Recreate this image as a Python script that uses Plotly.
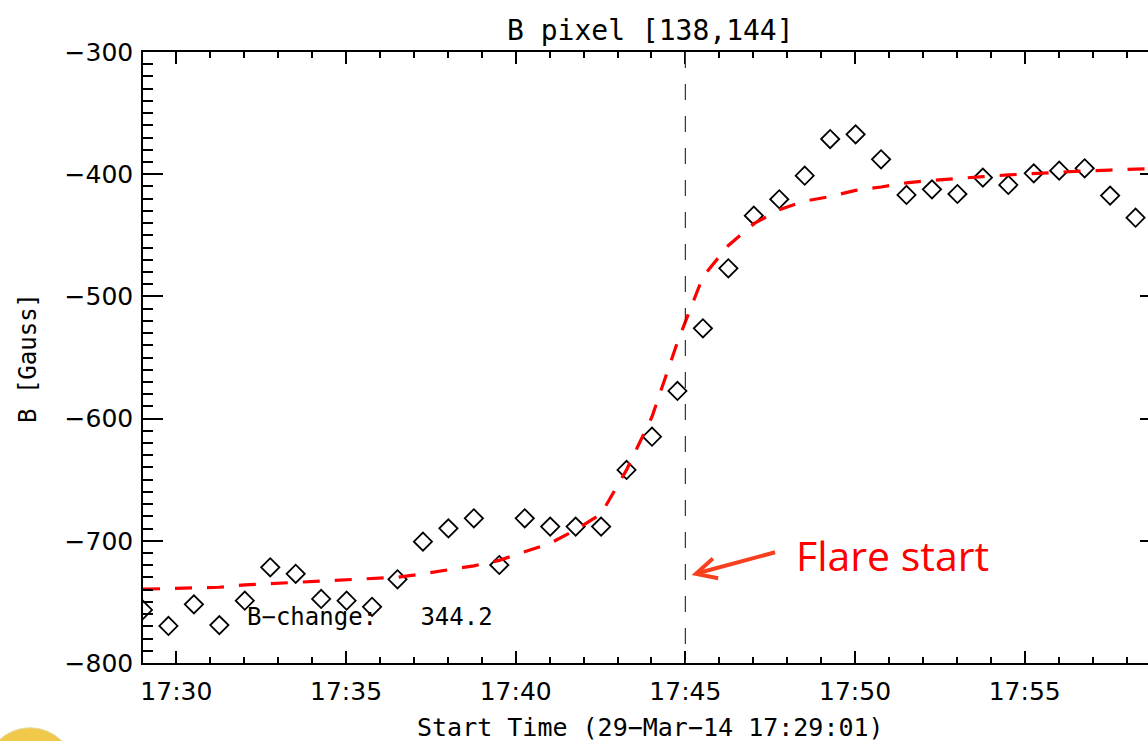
import plotly.graph_objects as go

DATE = "2014-03-29 "

# observation times (45 s cadence) and measured B values [Gauss]
obs_times = ["17:29:01", "17:29:46", "17:30:31", "17:31:16", "17:32:01", "17:32:46",
             "17:33:31", "17:34:16", "17:35:01", "17:35:46", "17:36:31", "17:37:16",
             "17:38:01", "17:38:46", "17:39:31", "17:40:16", "17:41:01", "17:41:46",
             "17:42:31", "17:43:16", "17:44:01", "17:44:46", "17:45:31", "17:46:16",
             "17:47:01", "17:47:46", "17:48:31", "17:49:16", "17:50:01", "17:50:46",
             "17:51:31", "17:52:16", "17:53:01", "17:53:46", "17:54:31", "17:55:16",
             "17:56:01", "17:56:46", "17:57:31", "17:58:16"]
b_obs = [-756.6, -769.7, -752.0, -769.0, -749.0, -721.7, -727.0, -747.6, -749.0, -754.0,
         -731.5, -700.7, -689.8, -681.6, -719.8, -681.6, -688.4, -688.4, -688.4, -642.0,
         -614.8, -577.4, -526.1, -477.0, -433.9, -420.5, -401.2, -371.2, -367.4, -387.8,
         -417.0, -412.4, -416.2, -402.8, -408.8, -399.3, -397.1, -395.2, -417.5, -435.6]

# fitted step curve read at the same times (plus one more sample)
fit_times = obs_times + ["17:59:01"]
b_fit = [-739.6, -739.0, -738.5, -738.0, -736.1, -735.0, -734.0, -733.0, -732.0, -731.0,
         -729.8, -727.0, -724.0, -720.5, -716.0, -709.0, -702.0, -691.0, -678.0, -642.0,
         -598.5, -537.4, -484.0, -458.3, -440.5, -429.1, -422.0, -418.3, -413.2, -410.5,
         -407.1, -405.0, -403.3, -402.0, -400.6, -399.4, -398.3, -397.3, -396.6, -395.8,
         -395.2]

x_tick_labels = ["17:30", "17:35", "17:40", "17:45", "17:50", "17:55"]
y_ticks = [-800, -700, -600, -500, -400, -300]
x_range = ["17:29:01", "17:58:38"]
y_range = [-800, -300]
flare_time = "17:45:00"
b_change = "344.2"

FONT = "DejaVu Sans"
MONO = "DejaVu Sans Mono"

fig = go.Figure()
fig.add_trace(go.Scatter(
    x=[DATE + t for t in obs_times], y=b_obs, mode="markers",
    marker=dict(symbol="diamond-open", size=14, color="black",
                line=dict(color="black", width=1.8)),
    showlegend=False, hoverinfo="skip"))
fig.add_trace(go.Scatter(
    x=[DATE + t for t in fit_times], y=b_fit, mode="lines", yaxis="y2",
    line=dict(color="#ff0000", width=3.2, dash="17px,15px"),
    showlegend=False, hoverinfo="skip"))

axis_font = dict(family=FONT, size=25, color="black")

fig.update_layout(
    width=1148, height=741,
    margin=dict(l=143, r=0, t=52, b=78),
    paper_bgcolor="white", plot_bgcolor="white",
    xaxis=dict(
        type="date", range=[DATE + x_range[0], DATE + x_range[1]],
        tickmode="array", tickvals=[DATE + t for t in x_tick_labels], ticktext=x_tick_labels,
        ticks="inside", ticklen=12, tickwidth=1.5, tickcolor="black",
        minor=dict(tickmode="linear", tick0=DATE + "17:30:00", dtick=60000,
                   ticks="inside", ticklen=6, tickwidth=1.5, tickcolor="black", showgrid=False),
        showline=True, linecolor="black", linewidth=1.5, mirror="ticks",
        showgrid=False, zeroline=False, tickfont=axis_font, ticklabelstandoff=5,
    ),
    yaxis=dict(
        range=y_range, tickmode="array", tickvals=y_ticks,
        ticks="inside", ticklen=20, tickwidth=1.5, tickcolor="black",
        minor=dict(tickmode="linear", tick0=-800, dtick=10,
                   ticks="inside", ticklen=10, tickwidth=1.5, tickcolor="black", showgrid=False),
        showline=True, linecolor="black", linewidth=1.5, mirror=False,
        showgrid=False, zeroline=False, tickfont=axis_font, ticklabelstandoff=3,
    ),
    yaxis2=dict(
        range=y_range, overlaying="y", side="right", tickmode="array", tickvals=y_ticks,
        ticks="inside", ticklen=8, tickwidth=1.5, tickcolor="black",
        showticklabels=False, showline=False, showgrid=False, zeroline=False,
    ),
)

# vertical dashed line at flare start
fig.add_shape(type="line", xref="x", yref="paper",
              x0=DATE + flare_time, x1=DATE + flare_time, y0=1, y1=0,
              line=dict(color="#333333", width=1.2, dash="16px,16px"))

# decorative yellow disc at bottom-left (slide logo)
fig.add_shape(type="circle", xref="paper", yref="paper",
              x0=-0.1572, x1=-0.0677, y0=-0.2532, y1=-0.1059,
              fillcolor="#f0c94a", line=dict(color="#e6d9a8", width=1), layer="above")

def py(p):
    return (663 - p) / 611

def px(p):
    return (p - 143) / 1005

annotations = [
    dict(text="B pixel [138,144]", xref="paper", yref="paper", x=px(650), y=py(30),
         showarrow=False, xanchor="center", yanchor="middle",
         font=dict(family=MONO, size=28, color="black")),
    dict(text="Start Time (29\u2212Mar\u221214 17:29:01)", xref="paper", yref="paper",
         x=px(650), y=py(727), showarrow=False, xanchor="center", yanchor="middle",
         font=dict(family=MONO, size=25, color="black")),
    dict(text="B [Gauss]", xref="paper", yref="paper", x=px(28), y=py(358),
         textangle=-90, showarrow=False, xanchor="center", yanchor="middle",
         font=dict(family=MONO, size=24, color="black")),
    dict(text="B\u2212change:\u00a0\u00a0 " + b_change, xref="x", yref="y",
         x=DATE + "17:32:02", y=-762, showarrow=False, xanchor="left", yanchor="middle",
         font=dict(family=MONO, size=24, color="black")),
    dict(text="Flare start", xref="x", yref="y", x=DATE + "17:51:07", y=-712,
         showarrow=False, xanchor="center", yanchor="middle",
         font=dict(family="Open Sans", size=41, color="#ff0000")),
    dict(text="", xref="x", yref="y", x=DATE + "17:45:11", y=-727.9,
         ax=85, ay=-23, showarrow=True, arrowhead=5, arrowsize=1, arrowwidth=4,
         arrowcolor="#f8401e", standoff=0),
]
fig.update_layout(annotations=annotations)

fig.write_html(
    "out.html",
    config={"displayModeBar": False},
    post_script="document.body.style.margin='0';document.body.style.overflow='hidden';",
)
